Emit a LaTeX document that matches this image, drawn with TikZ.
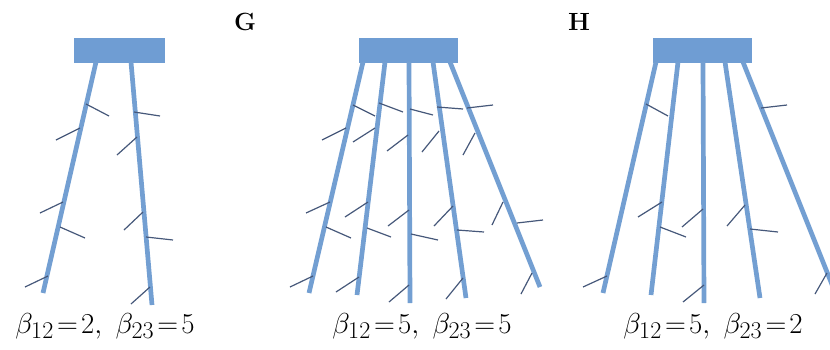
\documentclass[tikz,border=0pt]{standalone}
\usetikzlibrary{calc}
\definecolor{boxblue}{HTML}{6F9DD3}
\definecolor{stemblue}{HTML}{739FD2}
\definecolor{brdark}{HTML}{46587A}
\begin{document}
\begin{tikzpicture}[x=1pt,y=-1pt,
  stem/.style={draw=stemblue,line width=4.7pt},
  br/.style={draw=brdark,line width=1.2pt},
  topbox/.style={fill=boxblue,draw=none},
  lbl/.style={font=\Huge,scale=1.16,inner sep=0pt},
  ttl/.style={font=\Huge\bfseries,inner sep=0pt}]
\useasboundingbox (0,0) rectangle (830,349);
\clip (0,0) rectangle (830,349);
% ---------- panel 1 ----------
\path[topbox] (74,38) rectangle (165,63);
\coordinate (a1t) at (96,62); \coordinate (a1b) at (43,293);
\coordinate (a2t) at (131,62); \coordinate (a2b) at (152,305);
\draw[stem] (a1t) -- (a1b);
\draw[stem] (a2t) -- (a2b);
\draw[br] (86,104) -- (109,116);
\draw[br] (80,128) -- (56,140);
\draw[br] (63,202) -- (40,213);
\draw[br] (60,227) -- (85,238);
\draw[br] (48,276) -- (25,287);
\draw[br] (134,112) -- (160,116);
\draw[br] (137,137) -- (117,155);
\draw[br] (143,212) -- (124,230);
\draw[br] (146,237) -- (173,240);
\draw[br] (150,287) -- (131,304);
\node[ttl] (G) at (245,22) {G};
\node[lbl] (l1) at (105,326) {$\beta_{12}\!=\!2,\ \beta_{23}\!=\!5$};
% ---------- panel 2 ----------
\path[topbox] (359,38) rectangle (458,63);
\coordinate (b1t) at (363,62); \coordinate (b1b) at (309,293);
\coordinate (b2t) at (385,62); \coordinate (b2b) at (357,295);
\coordinate (b3t) at (409,62); \coordinate (b3b) at (410,303);
\coordinate (b4t) at (433,62); \coordinate (b4b) at (466,298);
\coordinate (b5t) at (450,62); \coordinate (b5b) at (540,287);
\foreach \s in {1,...,5} {\draw[stem] (b\s t) -- (b\s b);}
\draw[br] (353,105) -- (375,116);
\draw[br] (346,128) -- (322,140);
\draw[br] (330,202) -- (306,213);
\draw[br] (326,227) -- (351,238);
\draw[br] (313,276) -- (290,287);
\draw[br] (379,103) -- (403,112);
\draw[br] (375,128) -- (353,142);
\draw[br] (368,202) -- (345,217);
\draw[br] (367,228) -- (391,237);
\draw[br] (359,277) -- (336,292);
\draw[br] (410,109) -- (433,115);
\draw[br] (408,135) -- (387,151);
\draw[br] (409,210) -- (388,226);
\draw[br] (411,234) -- (438,240);
\draw[br] (409,285) -- (389,302);
\draw[br] (437,107) -- (463,109);
\draw[br] (439,131) -- (422,152);
\draw[br] (453,206) -- (434,226);
\draw[br] (457,230) -- (484,232);
\draw[br] (463,278) -- (446,299);
\draw[br] (467,108) -- (493,105);
\draw[br] (475,133) -- (463,155);
\draw[br] (503,202) -- (492,225);
\draw[br] (517,223) -- (543,220);
\draw[br] (532,273) -- (521,294);
\node[lbl] (l2) at (422,326) {$\beta_{12}\!=\!5,\ \beta_{23}\!=\!5$};
% ---------- panel 3 ----------
\path[topbox] (653,38) rectangle (752,63);
\coordinate (c1t) at (656,62); \coordinate (c1b) at (603,293);
\coordinate (c2t) at (678,62); \coordinate (c2b) at (651,295);
\coordinate (c3t) at (703,62); \coordinate (c3b) at (704,303);
\coordinate (c4t) at (725,62); \coordinate (c4b) at (760,298);
\coordinate (c5t) at (743,62); \coordinate (c5b) at (833,287);
\foreach \s in {1,...,5} {\draw[stem] (c\s t) -- (c\s b);}
\draw[br] (646,104) -- (668,116);
\draw[br] (607,276) -- (583,287);
\draw[br] (662,202) -- (638,217);
\draw[br] (660,227) -- (686,237);
\draw[br] (703,209) -- (682,227);
\draw[br] (704,285) -- (683,302);
\draw[br] (745,205) -- (727,226);
\draw[br] (750,229) -- (778,232);
\draw[br] (761,108) -- (787,105);
\draw[br] (827,273) -- (815,294);
\node[ttl] (H) at (579,22) {H};
\node[lbl] (l3) at (713,326) {$\beta_{12}\!=\!5,\ \beta_{23}\!=\!2$};
\end{tikzpicture}
\end{document}
